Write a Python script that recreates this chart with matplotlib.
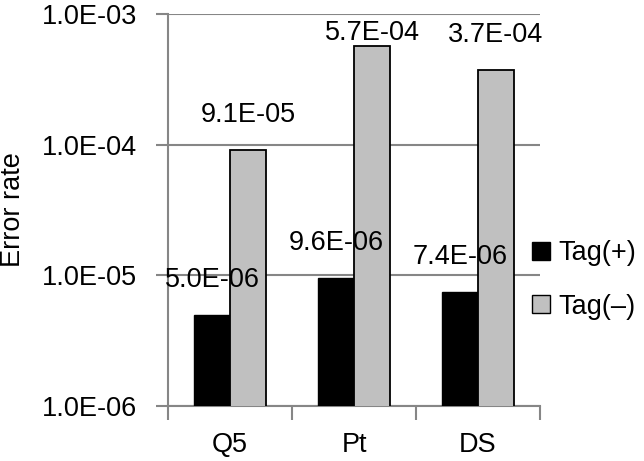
import numpy as np
import matplotlib
matplotlib.use('Agg')
import matplotlib.pyplot as plt
from matplotlib.ticker import FixedLocator, NullLocator, FuncFormatter
from matplotlib.transforms import blended_transform_factory

plt.rcParams.update({
    'font.family': ['Liberation Sans', 'DejaVu Sans'],
    'font.size': 19.5,
})

categories = ['Q5', 'Pt', 'DS']
tag_plus = [5.0e-6, 9.6e-6, 7.4e-6]
tag_minus = [9.1e-5, 5.7e-4, 3.7e-4]
series_names = ['Tag(+)', 'Tag(\u2013)']

grid_col = '#868686'
light = '#C0C0C0'
width = 0.29
x = np.arange(len(categories))

fig = plt.figure(figsize=(6.44, 4.61), dpi=100)
ax = fig.add_axes([168/644, 1-406/461, 372/644, 392/461])

ax.bar(x - width, tag_plus, width, align='edge', color='black', edgecolor='black',
       linewidth=1.0, zorder=3)
ax.bar(x, tag_minus, width, align='edge', color=light, edgecolor='black',
       linewidth=1.3, zorder=3)

ax.set_yscale('log')
ax.set_ylim(1e-6, 1e-3)
ax.set_xlim(-0.5, 2.5)
ax.yaxis.set_major_locator(FixedLocator([1e-6, 1e-5, 1e-4, 1e-3]))
ax.yaxis.set_minor_locator(NullLocator())
ax.yaxis.set_major_formatter(FuncFormatter(lambda v, p: f'{v:.1E}'))
ax.grid(axis='y', color=grid_col, linewidth=1.5, zorder=0)
ax.set_axisbelow(True)

ax.set_xticks(x)
ax.set_xticklabels(categories)
ax.set_xticks([-0.5, 0.5, 1.5, 2.5], minor=True)
ax.tick_params(axis='x', which='major', length=0, pad=19)
ax.tick_params(axis='x', which='minor', length=10, width=1.5, color=grid_col)
ax.tick_params(axis='y', length=9, width=1.5, color=grid_col, pad=13)

for s in ['top', 'right']:
    ax.spines[s].set_visible(False)
for s in ['left', 'bottom']:
    ax.spines[s].set_color(grid_col)
    ax.spines[s].set_linewidth(1.5)

fig.text(13/644, 1-210/461, 'Error rate', rotation=90, ha='center', va='center')

# value labels, kept inside the plot area like the original
trans = blended_transform_factory(ax.transData, ax.transAxes)
for xs, vals in [(x - width / 2, tag_plus), (x + width / 2, tag_minus)]:
    for xi, v in zip(xs, vals):
        frac = (np.log10(v) + 6) / 3 + 35 / 392
        frac = min(frac, 1 - 19 / 392)
        ax.text(xi, frac, f'{v:.1E}', transform=trans, ha='center', va='center',
                zorder=4, clip_on=False)

handles = [plt.Rectangle((0, 0), 1, 1, facecolor='black', edgecolor='black'),
           plt.Rectangle((0, 0), 1, 1, facecolor=light, edgecolor='black')]
fig.legend(handles, series_names, loc='center left',
           bbox_to_anchor=(532/644, 1-280/461), frameon=False,
           handlelength=0.67, handleheight=0.67, handletextpad=0.3,
           labelspacing=1.0, borderaxespad=0, borderpad=0)

fig.savefig('out.png', dpi=100)
